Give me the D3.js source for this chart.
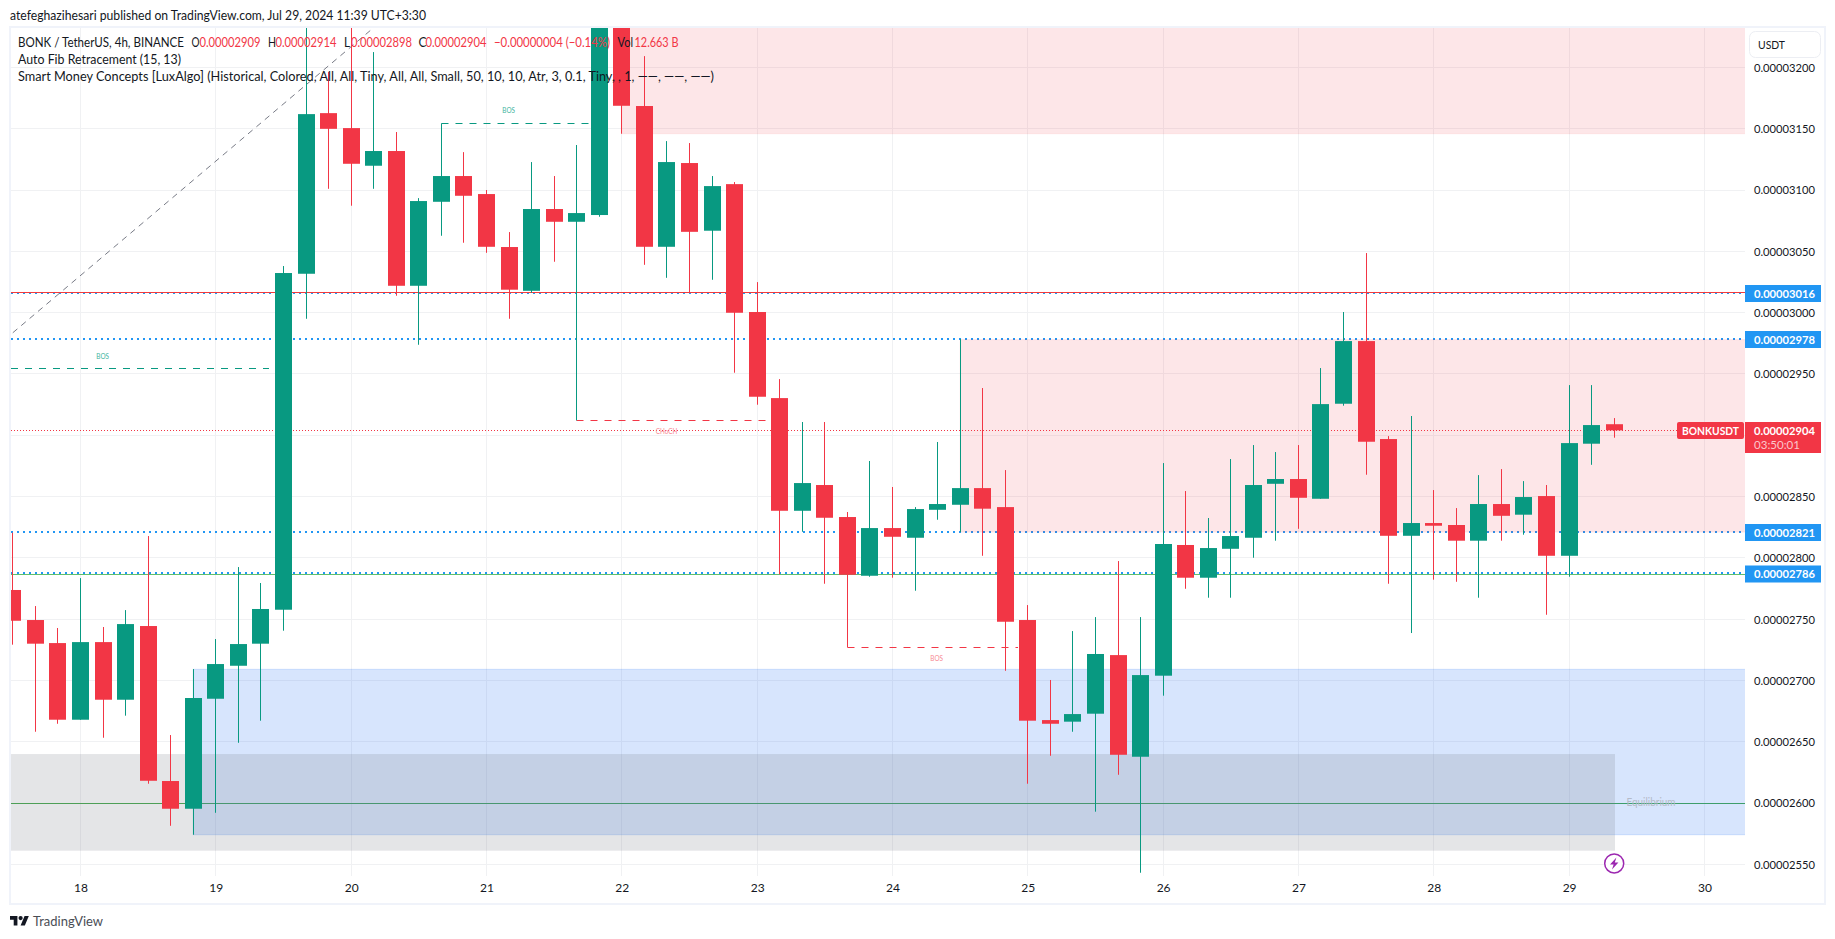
<!DOCTYPE html>
<html><head><meta charset="utf-8">
<script src="https://cdn.jsdelivr.net/npm/d3@7"></script>
<style>
html,body{margin:0;padding:0;background:#fff;overflow:hidden}
svg{display:block}
text{font-family:"Lato","Open Sans",sans-serif}
</style></head><body><svg id="c" width="1835" height="939"></svg>
<script>
// Prices are in units of 0.00000001 USDT. Candles are 4h, first candle Jul 17 12:00.
const opens=[2773.8,2749.3,2730.5,2668.0,2731.3,2684.3,2744.4,2618.0,2595.4,2685.1,2712.0,2730.0,2757.7,3031.7,3162.7,3150.5,3119.8,3131.8,3021.9,3090.4,3111.4,3096.7,3053.5,3017.8,3084.5,3074.1,3079.6,3260,3168.5,3053.7,3122.0,3066.8,3104.8,3000.5,2930.3,2838.4,2859.4,2833.3,2785.4,2824.3,2816.4,2839.2,2843.3,2856.9,2841.4,2749.3,2667.7,2666.4,2672.9,2720.7,2637.8,2703.9,2810.5,2783.8,2807.4,2816.4,2860.4,2864.3,2848.2,2925.7,2976.8,2896.9,2818.0,2828.4,2826.8,2814.0,2843.9,2835.2,2850.4,2801.7,2893.1,2909];
const highs=[2820.5,2760.7,2742.8,2783.5,2743.6,2757.4,2817.8,2655.5,2709.3,2733.8,2792.5,2779.5,3038.0,3245,3196.2,3245,3212.5,3147.3,3093.4,3154.3,3130.9,3100.0,3065.7,3122.8,3111.4,3136.7,3275,3275,3209.2,3139.9,3138.3,3111.4,3106.5,3024.9,2945.8,2910.8,2910.8,2837.4,2879.0,2857.8,2841.4,2894.5,2978.4,2938.5,2871.6,2761.5,2700.4,2740.3,2751.7,2797.4,2751.7,2877.3,2854.5,2832.5,2880.6,2892.0,2886.3,2892.0,2954.8,3000.5,3048.6,2899.3,2915.7,2855.3,2840.6,2867.5,2872.4,2862.6,2859.4,2940.9,2940.9,2914];
const lows=[2729.2,2658.2,2664.7,2668.0,2653.3,2671.3,2615.8,2581.5,2574.2,2592.1,2649.2,2667.2,2740.6,2995.0,3101.0,3087.2,3101.0,3013.8,2973.8,3062.7,3057.0,3048.8,2995.0,3016.2,3041.5,2912.1,3078.2,3145.9,3039.0,3028.4,3016.2,3026.8,2951.0,2924.9,2786.6,2821.3,2778.9,2727.0,2784.6,2783.8,2773.2,2831.1,2821.1,2801.7,2707.9,2615.8,2638.6,2658.2,2593.0,2623.1,2543.2,2687.6,2774.8,2767.5,2767.5,2800.1,2814.0,2823.7,2848.2,2924.1,2867.8,2778.9,2738.7,2782.2,2780.5,2767.5,2814.0,2818.9,2753.6,2784.6,2875.9,2898];
const closes=[2748.7,2730.0,2668.0,2731.3,2684.3,2746.0,2618.2,2595.4,2685.7,2713.4,2729.7,2758.3,3032.3,3161.9,3149.9,3121.4,3131.8,3021.9,3091.0,3111.4,3095.3,3053.7,3018.7,3084.5,3074.1,3081.2,3260,3168.7,3053.7,3122.8,3065.9,3103.2,2999.9,2931.4,2838.4,2861.0,2832.7,2786.2,2824.3,2817.2,2839.8,2843.9,2856.9,2840.1,2747.9,2667.2,2664.7,2672.6,2721.6,2639.4,2704.4,2811.3,2783.8,2808.0,2817.8,2859.4,2864.3,2849.0,2925.4,2976.8,2894.7,2818.0,2828.4,2826.2,2814.0,2843.9,2834.3,2849.6,2801.7,2893.6,2908.3,2904];
const priceTicks=[3200,3150,3100,3050,3000,2950,2900,2850,2800,2750,2700,2650,2600,2550];
const dayTicks=[18,19,20,21,22,23,24,25,26,27,28,29,30];
const fibLevels=[3016,2978,2821,2786];
const fibLabels=["0.00003016","0.00002978","0.00002821","0.00002786"];
const lastPrice=2904;
const redLevel=3016.2, greenTop=2786.6, greenMid=2600;
const firstCandle=Date.UTC(2024,6,17,12), H4=4*3600e3;

const W=1835,L=11,R=1745,T=28,B=876;
const svg=d3.select("#c");
const y=d3.scaleLinear().domain([3200,2550]).range([67.4,864.4]);
const x=d3.scaleUtc().domain([Date.UTC(2024,6,18),Date.UTC(2024,6,30)]).range([80.47,1704.43]);
const tAt=i=>firstCandle+i*H4;
const xi=i=>x(tAt(i));
const px=v=>Math.floor(v)+.5;
const red="#f23645",green="#089981",blue="#2196f3",ink="#131722";
const fit=(s,w)=>s.attr("textLength",w).attr("lengthAdjust","spacingAndGlyphs");

svg.append("defs").append("clipPath").attr("id","plot").append("rect").attr("x",L).attr("y",T).attr("width",R-L).attr("height",B-T);
const g=svg.append("g").attr("clip-path","url(#plot)");

// grid
g.selectAll(".gh").data(priceTicks).join("line").attr("x1",L).attr("x2",R).attr("y1",d=>px(y(d))).attr("y2",d=>px(y(d))).attr("stroke","#f0f1f3");
g.selectAll(".gv").data(dayTicks).join("line").attr("x1",d=>px(x(Date.UTC(2024,6,d)))).attr("x2",d=>px(x(Date.UTC(2024,6,d)))).attr("y1",T).attr("y2",B).attr("stroke","#f0f1f3");

// level lines under the zones
const hline=(v,c,w,dash,x1=L,x2=R)=>{const yy=w===2?Math.floor(y(v)):px(y(v));return g.append("line").attr("x1",x1).attr("x2",x2).attr("y1",yy).attr("y2",yy).attr("stroke",c).attr("stroke-width",w).attr("stroke-dasharray",dash||null);};
hline(3015.6,blue,2,"2,4");
hline(redLevel,"#f23c3c",1);
hline(2978,blue,2,"2,4");
hline(2821,blue,2,"2,4");
hline(2787.2,blue,2,"2,4");
hline(greenTop,"#5fbf6c",1);
hline(greenMid,"#43a84c",1);

// zones
const pink="rgba(242,54,69,.125)", pinkEdge="rgba(242,54,69,.08)";
const zone=(i0,x2,top,bot,fill,stroke)=>{const r=g.append("rect").attr("x",xi(i0)).attr("width",x2-xi(i0)).attr("y",y(top)).attr("height",y(bot)-y(top)).attr("fill",fill);if(stroke)r.attr("stroke",stroke);};
zone(27,R+5,3260,3145.9,pink,pinkEdge);
zone(42,R+5,2978,2821,pink,pinkEdge);
zone(8,R+5,2709.1,2574.2,"rgba(40,115,245,.19)","rgba(40,115,245,.18)");
g.append("rect").attr("x",L).attr("width",x(tAt(71))+.8-L).attr("y",y(2640)).attr("height",y(2561.2)-y(2640)).attr("fill","rgba(120,123,134,.2)");

// auto fib diagonal
g.append("line").attr("x1",xi(0)).attr("y1",y(2983.6)).attr("x2",xi(15.87)).attr("y2",y(3230.4)).attr("stroke","#787b86").attr("stroke-dasharray","6,5");

// last price dotted
hline(lastPrice,red,1,"1,2",L,1677);

// structure breaks
const brk=(i0,x2,v,c)=>{g.append("line").attr("x1",i0<0?L:px(xi(i0))).attr("x2",x2).attr("y1",px(y(v))).attr("y2",px(y(v))).attr("stroke",c).attr("stroke-dasharray","7,7");};
brk(-1,269,2954.6,green);
brk(19,590,3154.3,green);
brk(25,769,2912.1,red);
brk(37,1018,2727.0,red);
const tag=(t,xx,v,c,w,fs)=>fit(g.append("text").text(t).attr("x",xx-w/2).attr("y",y(v)).attr("dy","0.35em").attr("font-size",fs||8).attr("fill",c),w);
tag("BOS",102.7,2964.4,"#45b5a0",12.7);
tag("BOS",508.7,3164.8,"#45b5a0",12.7);
tag("CHoCH",666.5,2903.5,"#f78a94",21.7);
tag("BOS",936.7,2717.8,"#f78a94",12.7);
tag("Equilibrium",1651,2600.4,"#b4bac8",49,10.5);

// candles
const idx=d3.range(opens.length);
const col=i=>closes[i]>=opens[i]?green:red;
g.selectAll(".w").data(idx).join("rect").attr("x",i=>Math.floor(xi(i))).attr("width",1).attr("y",i=>y(highs[i])).attr("height",i=>y(lows[i])-y(highs[i])).attr("fill",col);
g.selectAll(".b").data(idx).join("rect").attr("x",i=>Math.floor(xi(i))-8).attr("width",17).attr("y",i=>y(Math.max(opens[i],closes[i]))).attr("height",i=>Math.max(1,Math.abs(y(opens[i])-y(closes[i])))).attr("fill",col);

// frame
svg.append("rect").attr("x",10).attr("y",27).attr("width",1815).attr("height",877).attr("fill","none").attr("stroke","#f0f3fa").attr("stroke-width",2);

// price axis
const fmt=v=>(v/1e8).toFixed(8);
const pa=svg.append("g").attr("transform",`translate(${R},0)`).call(d3.axisRight(y).tickValues(priceTicks.filter(d=>d!==2900)).tickSize(0).tickPadding(9).tickFormat(fmt));
pa.select(".domain").remove();
pa.selectAll("text").attr("font-size",12).attr("fill",ink).style("font-family","Lato").attr("textLength",61).attr("lengthAdjust","spacingAndGlyphs");
// time axis
const ta=svg.append("g").attr("transform",`translate(0,${B})`).call(d3.axisBottom(x).tickValues(dayTicks.map(d=>Date.UTC(2024,6,d))).tickSize(0).tickPadding(7).tickFormat(d3.utcFormat("%-d")));
ta.select(".domain").remove();
ta.selectAll("text").attr("font-size",12).attr("fill",ink).style("font-family","Lato");

// level labels
const lab=(t,xx,yy,w,c,wt)=>fit(svg.append("text").text(t).attr("x",xx).attr("y",yy).attr("dy","0.36em").attr("font-size",12).attr("font-weight",wt||700).attr("fill",c||"#fff"),w);
fibLevels.forEach((v,k)=>{const yy=[293.5,339.5,532.5,574][k];
  svg.append("rect").attr("x",R).attr("y",yy-8.5).attr("width",76).attr("height",17).attr("fill",blue);
  lab(fibLabels[k],1754,yy,61);
});
svg.append("rect").attr("x",R).attr("y",422).attr("width",76).attr("height",31).attr("fill",red);
lab(fmt(lastPrice),1754,431,61);
lab("03:50:01",1754,445,46,"#fbc6cb",400);
svg.append("rect").attr("x",1677).attr("y",422).attr("width",67).attr("height",17).attr("rx",2).attr("fill",red);
lab("BONKUSDT",1682,431,57);

// currency button
svg.append("rect").attr("x",1749.5).attr("y",31.5).attr("width",71).attr("height",26).attr("rx",6).attr("fill","#fff").attr("stroke","#eceef3");
lab("USDT",1758,44.5,27,ink,400);

// bolt marker
const bolt=svg.append("g").attr("transform",`translate(${xi(71)},863.4)`);
bolt.append("circle").attr("r",9.5).attr("fill","#fff").attr("stroke","#9c27b0").attr("stroke-width",1.5);
bolt.append("path").attr("d","M2.2,-6 L-4.2,1 L-0.6,1 L-2.2,6 L4.2,-1 L0.6,-1 Z").attr("fill","#9c27b0");

// header + legend
const txt=(t,xx,yy,w,c)=>fit(svg.append("text").text(t).attr("x",xx).attr("y",yy).attr("dy","0.36em").attr("font-size",13).attr("fill",c||ink),w);
txt("atefeghazihesari published on TradingView.com, Jul 29, 2024 11:39 UTC+3:30",10,15,416);
// first legend row: one text element with positioned runs
const row=svg.append("text").attr("y",42).attr("dy","0.36em").attr("font-size",13).attr("fill",ink);
const run=(t,xx,w,c)=>fit(row.append("tspan").text(t).attr("x",xx).attr("fill",c||ink),w);
run("BONK / TetherUS, 4h, BINANCE",18,166);
[["O",191.5,"0.00002909",199.5],["H",268,"0.00002914",275.5],["L",344,"0.00002898",351],["C",418.5,"0.00002904",425.5]].forEach(d=>{run(d[0],d[1],d[0]=="L"?6:8);run(d[2],d[3],61,red);});
run("−0.00000004 (−0.14%)",494,116,red);
run("Vol",617.5,15.5);
run("12.663 B",634.5,44,red);
txt("Auto Fib Retracement (15, 13)",18,59,163);
txt("Smart Money Concepts [LuxAlgo] (Historical, Colored, All, All, Tiny, All, All, Small, 50, 10, 10, Atr, 3, 0.1, Tiny, , 1, ——, ——, ——)",18,76,696);

// logo
const logo=svg.append("g").attr("transform","translate(10,913.8) scale(.53)").attr("fill","#131722");
logo.append("path").attr("d","M14 22H7V11H0V4h14v18zM28 22h-8l7.5-18h8L28 22z");
logo.append("circle").attr("cx",20).attr("cy",8).attr("r",4);
txt("TradingView",33,921,70,"#4a4d55");
</script></body></html>
